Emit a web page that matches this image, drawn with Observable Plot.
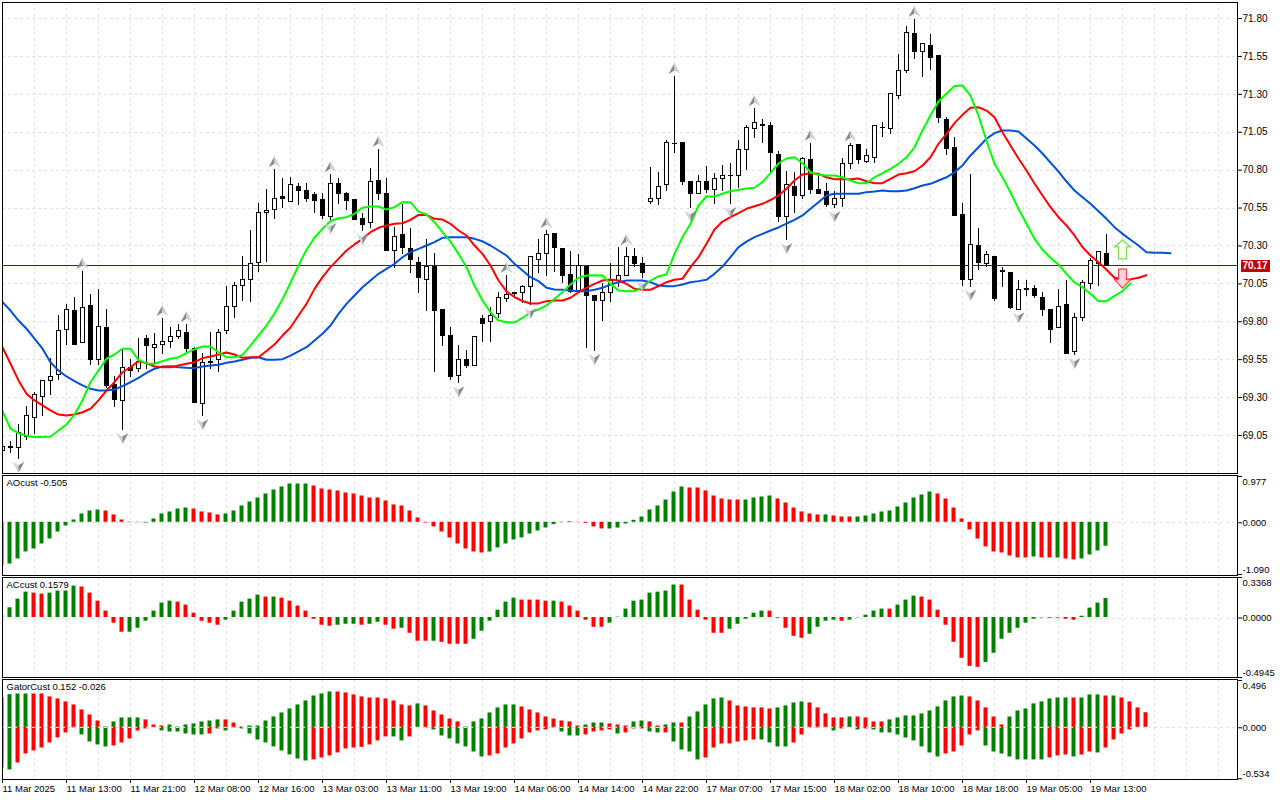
<!DOCTYPE html>
<html><head><meta charset="utf-8">
<script src="https://cdn.jsdelivr.net/npm/d3@7"></script>
<script src="https://cdn.jsdelivr.net/npm/@observablehq/plot@0.6"></script>
<style>html,body{margin:0;padding:0;background:#fff}#chart{position:relative;width:1280px;height:800px;overflow:hidden}</style>
</head><body><div id="chart"></div>
<script>
const opens=[68.946,68.972,68.969,69.039,69.166,69.302,69.408,69.450,69.747,69.874,69.659,69.901,69.546,69.762,69.380,69.276,69.492,69.490,69.683,69.628,69.645,69.668,69.698,69.727,69.622,69.256,69.532,69.549,69.740,69.899,70.036,70.077,70.189,70.519,70.538,70.624,70.593,70.692,70.664,70.633,70.600,70.490,70.710,70.646,70.600,70.481,70.453,70.730,70.646,70.268,70.374,70.281,70.189,70.077,70.164,69.879,69.707,69.439,69.549,69.507,69.819,69.797,69.850,69.949,69.990,69.988,70.031,70.209,70.248,70.376,70.281,70.110,70.006,70.164,69.971,69.936,69.991,70.072,70.100,70.228,70.184,70.591,70.611,70.703,70.975,70.980,70.723,70.644,70.723,70.670,70.743,70.764,70.763,70.934,71.073,71.095,71.093,70.903,70.490,70.692,70.628,70.864,70.666,70.653,70.569,70.608,70.839,70.963,70.857,70.879,71.078,71.073,71.290,71.453,71.695,71.578,71.622,71.556,71.134,70.943,70.501,70.077,70.301,70.182,70.228,70.132,70.123,69.879,70.017,70.017,69.958,69.879,69.760,69.912,69.599,69.823,70.050,70.180,70.248];
const highs=[68.977,69.010,69.122,69.241,69.335,69.413,69.556,69.841,69.914,69.958,70.131,69.978,70.011,69.879,69.439,69.610,69.549,69.688,69.709,69.721,69.821,69.760,69.780,69.780,69.632,69.589,69.727,69.747,70.033,70.057,70.230,70.402,70.578,70.670,70.802,70.743,70.752,70.710,70.710,70.651,70.646,70.769,70.743,70.651,70.604,70.512,70.809,70.936,70.743,70.420,70.573,70.413,70.222,70.341,70.248,69.879,69.764,69.643,69.610,69.705,69.841,69.896,69.991,70.105,69.995,70.039,70.230,70.343,70.402,70.384,70.285,70.261,70.242,70.171,69.971,70.050,70.184,70.288,70.288,70.281,70.222,70.819,70.783,70.996,71.418,70.980,70.723,70.765,70.822,70.776,70.831,70.842,70.996,71.094,71.205,71.134,71.116,70.925,70.791,70.784,70.885,70.978,70.765,70.710,70.661,70.875,70.974,70.963,70.936,71.093,71.116,71.304,71.561,71.748,71.794,71.637,71.695,71.556,71.149,71.017,70.580,70.771,70.413,70.263,70.230,70.156,70.123,70.072,70.072,70.039,69.991,69.879,70.011,70.072,69.852,70.072,70.217,70.259,70.376];
const lows=[68.938,68.933,68.893,69.017,69.056,69.175,69.314,69.413,69.643,69.645,69.657,69.511,69.511,69.358,69.236,69.083,69.430,69.465,69.483,69.518,69.584,69.624,69.685,69.593,69.263,69.175,69.485,69.465,69.716,69.821,69.934,69.929,70.127,70.189,70.476,70.549,70.587,70.567,70.589,70.516,70.472,70.468,70.573,70.534,70.468,70.397,70.417,70.600,70.268,70.149,70.244,70.120,69.988,69.868,69.467,69.637,69.413,69.391,69.490,69.507,69.663,69.665,69.819,69.929,69.955,69.920,69.907,70.118,70.099,70.127,70.054,69.984,69.995,69.626,69.604,69.804,69.929,70.028,70.100,70.160,70.083,70.571,70.569,70.661,70.912,70.699,70.549,70.644,70.644,70.573,70.659,70.573,70.677,70.798,71.011,70.978,70.778,70.457,70.336,70.512,70.606,70.639,70.639,70.556,70.545,70.556,70.804,70.837,70.842,70.846,71.017,71.035,71.264,71.439,71.530,71.413,71.457,71.110,70.897,70.496,70.033,70.028,70.138,70.160,69.936,70.028,69.879,69.879,69.969,69.951,69.837,69.659,69.760,69.586,69.577,69.804,70.013,70.035,70.166];
const closes=[68.973,68.970,69.065,69.180,69.318,69.411,69.437,69.740,69.879,69.645,69.892,69.546,69.767,69.375,69.283,69.496,69.474,69.533,69.637,69.648,69.668,69.701,69.740,69.619,69.263,69.529,69.530,69.727,69.899,70.037,70.077,70.182,70.519,70.532,70.611,70.608,70.703,70.661,70.608,70.595,70.496,70.710,70.641,70.595,70.470,70.437,70.723,70.641,70.268,70.360,70.285,70.209,70.087,70.164,69.870,69.705,69.434,69.549,69.505,69.701,69.784,69.839,69.958,69.978,69.986,70.031,70.224,70.248,70.374,70.288,70.100,69.998,70.169,69.969,69.936,69.991,70.072,70.100,70.228,70.178,70.120,70.611,70.690,70.980,70.973,70.721,70.641,70.723,70.668,70.743,70.760,70.762,70.934,71.079,71.112,71.093,70.912,70.490,70.703,70.628,70.875,70.666,70.644,70.569,70.611,70.842,70.961,70.870,70.895,71.093,71.076,71.304,71.455,71.706,71.578,71.633,71.538,71.143,70.938,70.496,70.075,70.308,70.186,70.242,69.949,70.130,69.889,70.011,70.011,69.969,69.879,69.747,69.899,69.586,69.826,70.057,70.202,70.259,70.170];
const lips=[69.210,69.094,69.065,69.048,69.039,69.039,69.043,69.083,69.122,69.188,69.281,69.401,69.478,69.556,69.584,69.622,69.622,69.549,69.525,69.523,69.540,69.556,69.566,69.593,69.619,69.637,69.637,69.599,69.566,69.566,69.581,69.643,69.709,69.775,69.854,69.949,70.056,70.171,70.275,70.354,70.413,70.463,70.483,70.490,70.512,70.552,70.560,70.560,70.540,70.556,70.589,70.589,70.527,70.507,70.457,70.391,70.329,70.248,70.160,70.039,69.940,69.863,69.808,69.797,69.795,69.825,69.863,69.881,69.907,69.951,69.995,70.046,70.090,70.105,70.107,70.105,70.050,70.006,70.002,70.002,70.028,70.072,70.100,70.112,70.248,70.358,70.446,70.567,70.626,70.626,70.644,70.661,70.670,70.679,70.684,70.721,70.781,70.844,70.877,70.885,70.846,70.786,70.769,70.765,70.765,70.753,70.732,70.714,70.714,70.753,70.780,70.809,70.842,70.885,70.951,71.062,71.160,71.253,71.304,71.356,71.358,71.292,71.160,70.996,70.842,70.753,70.653,70.545,70.446,70.347,70.275,70.222,70.178,70.116,70.059,70.028,69.984,69.936,69.936,69.971,70.002,70.054];
const teeth=[69.632,69.523,69.413,69.325,69.281,69.248,69.215,69.188,69.182,69.188,69.203,69.226,69.281,69.347,69.401,69.467,69.500,69.540,69.527,69.505,69.500,69.500,69.511,69.523,69.533,69.560,69.571,69.584,69.597,69.584,69.562,69.566,69.566,69.607,69.650,69.709,69.762,69.841,69.918,70.017,70.094,70.160,70.215,70.270,70.310,70.347,70.391,70.420,70.435,70.446,70.450,70.472,70.505,70.505,70.479,70.474,70.446,70.402,70.369,70.303,70.248,70.171,70.072,70.000,69.963,69.937,69.920,69.921,69.936,69.940,69.940,69.958,69.995,70.024,70.050,70.072,70.079,70.072,70.050,70.017,70.011,70.011,70.035,70.061,70.077,70.083,70.160,70.226,70.314,70.409,70.461,70.490,70.516,70.545,70.562,70.578,70.603,70.633,70.677,70.732,70.771,70.780,70.776,70.753,70.740,70.740,70.740,70.745,70.727,70.714,70.714,70.743,70.771,70.780,70.793,70.831,70.885,70.974,71.040,71.110,71.165,71.211,71.215,71.193,71.149,71.050,70.963,70.877,70.798,70.712,70.633,70.556,70.490,70.435,70.369,70.292,70.237,70.193,70.143,70.090,70.077,70.081,70.090,70.107];
const jaw=[69.929,69.874,69.808,69.754,69.688,69.622,69.533,69.478,69.439,69.408,69.380,69.358,69.347,69.347,69.353,69.375,69.401,69.430,69.463,69.490,69.505,69.507,69.500,69.496,69.494,69.505,69.511,69.516,69.529,69.538,69.549,69.562,69.566,69.549,69.549,69.553,69.577,69.604,69.632,69.676,69.721,69.775,69.852,69.918,69.973,70.028,70.072,70.116,70.149,70.182,70.226,70.259,70.281,70.303,70.325,70.354,70.358,70.358,70.358,70.347,70.331,70.303,70.270,70.237,70.182,70.138,70.094,70.068,70.024,70.013,70.011,70.006,70.002,70.002,70.011,70.024,70.046,70.061,70.072,70.072,70.072,70.061,70.039,70.035,70.035,70.046,70.061,70.068,70.077,70.116,70.164,70.226,70.292,70.329,70.358,70.380,70.402,70.422,70.448,70.472,70.501,70.545,70.589,70.633,70.644,70.644,70.644,70.644,70.655,70.659,70.666,70.661,70.661,70.666,70.681,70.699,70.710,70.732,70.753,70.786,70.831,70.897,70.951,71.007,71.044,71.062,71.062,71.055,71.009,70.963,70.910,70.850,70.791,70.725,70.666,70.622,70.578,70.529,70.479,70.424,70.380,70.341,70.303,70.259,70.255,70.255,70.252];
const fractalUp=[10,20,23,34,41,47,63,68,78,84,94,101,106,114];
const fractalDown=[2,15,25,41,45,57,66,74,80,86,91,98,104,121,127,134];
const aoValues=[-0.914,-0.879,-0.773,-0.626,-0.562,-0.457,-0.352,-0.204,-0.077,0.049,0.176,0.239,0.260,0.239,0.155,0.049,0.007,-0.007,-0.014,0.070,0.176,0.218,0.281,0.302,0.281,0.218,0.197,0.155,0.176,0.239,0.344,0.429,0.513,0.598,0.682,0.745,0.808,0.808,0.808,0.766,0.703,0.682,0.661,0.619,0.598,0.555,0.513,0.513,0.450,0.366,0.344,0.239,0.091,-0.014,-0.098,-0.204,-0.330,-0.457,-0.562,-0.626,-0.647,-0.626,-0.541,-0.457,-0.373,-0.330,-0.246,-0.183,-0.120,-0.049,-0.007,0.014,-0.007,-0.021,-0.098,-0.141,-0.141,-0.120,-0.035,0.042,0.112,0.260,0.344,0.471,0.640,0.745,0.724,0.724,0.661,0.555,0.492,0.471,0.471,0.471,0.513,0.534,0.555,0.492,0.408,0.302,0.218,0.176,0.155,0.155,0.134,0.112,0.112,0.112,0.134,0.176,0.218,0.239,0.323,0.408,0.513,0.576,0.640,0.598,0.492,0.302,0.070,-0.162,-0.352,-0.520,-0.626,-0.647,-0.710,-0.752,-0.752,-0.731,-0.752,-0.752,-0.752,-0.773,-0.794,-0.773,-0.689,-0.605,-0.505];
const aoRuns=[[13,"G"],[5,"R"],[6,"G"],[4,"R"],[11,"G"],[22,"R"],[11,"G"],[4,"R"],[10,"G"],[7,"R"],[4,"G"],[6,"R"],[1,"G"],[3,"R"],[10,"G"],[12,"R"],[1,"G"],[2,"R"],[1,"G"],[2,"R"],[4,"G"]];
const acValues=[0.014,0.081,0.153,0.211,0.203,0.195,0.203,0.220,0.220,0.261,0.253,0.203,0.136,0.053,-0.047,-0.122,-0.122,-0.089,-0.031,0.053,0.120,0.136,0.128,0.103,0.036,-0.031,-0.047,-0.064,-0.022,0.053,0.128,0.153,0.186,0.170,0.170,0.161,0.136,0.095,0.053,-0.014,-0.064,-0.072,-0.064,-0.056,-0.056,-0.064,-0.056,-0.039,-0.064,-0.097,-0.089,-0.131,-0.197,-0.197,-0.197,-0.206,-0.222,-0.222,-0.222,-0.181,-0.114,-0.031,0.061,0.128,0.161,0.145,0.145,0.145,0.136,0.136,0.128,0.095,0.053,-0.022,-0.081,-0.081,-0.047,0.003,0.070,0.136,0.145,0.203,0.211,0.220,0.270,0.270,0.145,0.061,-0.022,-0.131,-0.131,-0.097,-0.056,-0.014,0.036,0.053,0.053,-0.006,-0.089,-0.156,-0.172,-0.139,-0.081,-0.031,-0.022,-0.031,-0.022,-0.003,0.019,0.053,0.070,0.070,0.103,0.145,0.178,0.170,0.145,0.061,-0.064,-0.206,-0.339,-0.406,-0.414,-0.373,-0.297,-0.181,-0.131,-0.089,-0.047,-0.014,-0.003,-0.006,-0.006,-0.014,-0.022,0.011,0.078,0.120,0.1579];
const acRuns=[[4,"G"],[2,"R"],[4,"G"],[6,"R"],[6,"G"],[6,"R"],[5,"G"],[1,"R"],[1,"G"],[7,"R"],[3,"G"],[1,"R"],[2,"G"],[2,"R"],[1,"G"],[3,"R"],[1,"G"],[4,"R"],[6,"G"],[4,"R"],[1,"G"],[6,"R"],[9,"G"],[6,"R"],[5,"G"],[5,"R"],[4,"G"],[1,"R"],[5,"G"],[1,"R"],[3,"G"],[8,"R"],[8,"G"],[1,"R"],[1,"G"],[2,"R"],[4,"G"]];
const gatorUpper=[0.307,0.342,0.349,0.349,0.349,0.349,0.318,0.297,0.266,0.234,0.182,0.129,0.066,0.003,0.056,0.098,0.098,0.098,0.077,0.024,0.014,0.024,0.003,0.024,0.035,0.056,0.066,0.077,0.077,0.045,0.003,0.014,0.014,0.066,0.108,0.150,0.192,0.234,0.276,0.328,0.349,0.370,0.370,0.360,0.339,0.318,0.307,0.307,0.297,0.276,0.234,0.224,0.245,0.224,0.171,0.129,0.087,0.056,0.003,0.056,0.087,0.150,0.203,0.234,0.234,0.213,0.182,0.150,0.108,0.087,0.066,0.056,0.014,0.024,0.045,0.045,0.035,0.024,0.014,0.056,0.066,0.056,0.014,0.024,0.045,0.045,0.108,0.161,0.234,0.297,0.307,0.276,0.224,0.213,0.203,0.203,0.192,0.203,0.224,0.255,0.266,0.255,0.203,0.140,0.098,0.098,0.108,0.108,0.098,0.056,0.056,0.077,0.098,0.119,0.119,0.140,0.171,0.213,0.276,0.318,0.328,0.318,0.276,0.203,0.108,0.024,0.108,0.171,0.192,0.245,0.266,0.297,0.307,0.307,0.307,0.307,0.339,0.339,0.328,0.328,0.307,0.266,0.203,0.152];
const gatorUpperRuns=[[4,"G"],[10,"R"],[4,"G"],[3,"R"],[1,"G"],[1,"R"],[5,"G"],[3,"R"],[11,"G"],[10,"R"],[1,"G"],[6,"R"],[6,"G"],[8,"R"],[3,"G"],[3,"R"],[2,"G"],[2,"R"],[2,"G"],[1,"R"],[5,"G"],[6,"R"],[4,"G"],[5,"R"],[1,"G"],[4,"R"],[10,"G"],[5,"R"],[8,"G"],[1,"R"],[3,"G"],[1,"R"],[1,"G"],[4,"R"]];
const gatorLower=[-0.426,-0.447,-0.374,-0.280,-0.248,-0.217,-0.164,-0.112,-0.059,-0.007,-0.080,-0.154,-0.185,-0.206,-0.196,-0.164,-0.122,-0.038,-0.017,-0.007,-0.038,-0.049,-0.049,-0.070,-0.080,-0.080,-0.070,-0.017,-0.038,-0.007,-0.017,-0.070,-0.133,-0.164,-0.206,-0.248,-0.290,-0.332,-0.353,-0.342,-0.321,-0.300,-0.269,-0.227,-0.217,-0.210,-0.185,-0.143,-0.101,-0.101,-0.143,-0.101,0,-0.007,-0.028,-0.091,-0.122,-0.175,-0.206,-0.259,-0.311,-0.300,-0.280,-0.217,-0.175,-0.122,-0.059,-0.038,-0.028,-0.007,-0.049,-0.091,-0.091,-0.080,-0.049,-0.038,-0.028,-0.070,-0.059,-0.017,-0.017,-0.049,-0.059,-0.059,-0.154,-0.238,-0.259,-0.342,-0.321,-0.217,-0.175,-0.175,-0.154,-0.143,-0.133,-0.133,-0.164,-0.206,-0.206,-0.164,-0.080,-0.007,-0.007,-0.007,-0.038,-0.017,-0.007,-0.028,-0.017,-0.028,-0.059,-0.059,-0.080,-0.112,-0.143,-0.206,-0.269,-0.311,-0.280,-0.259,-0.196,-0.080,-0.038,-0.196,-0.259,-0.280,-0.311,-0.342,-0.342,-0.342,-0.342,-0.321,-0.300,-0.290,-0.311,-0.290,-0.259,-0.269,-0.217,-0.133,-0.070,-0.028,0,0];
const gatorLowerRuns=[[2,"G"],[8,"R"],[4,"G"],[6,"R"],[6,"G"],[2,"R"],[1,"G"],[1,"R"],[9,"G"],[10,"R"],[2,"G"],[3,"R"],[7,"G"],[9,"R"],[3,"G"],[4,"R"],[1,"G"],[3,"R"],[2,"G"],[1,"R"],[4,"G"],[7,"R"],[4,"G"],[5,"R"],[1,"G"],[2,"R"],[1,"G"],[1,"R"],[9,"G"],[5,"R"],[8,"G"],[3,"R"],[1,"G"],[2,"R"],[1,"G"],[6,"R"]];
const priceTicks=[71.80,71.55,71.30,71.05,70.80,70.55,70.30,70.05,69.80,69.55,69.30,69.05];
const timeLabels=["11 Mar 2025","11 Mar 13:00","11 Mar 21:00","12 Mar 08:00","12 Mar 16:00","13 Mar 03:00","13 Mar 11:00","13 Mar 19:00","14 Mar 06:00","14 Mar 14:00","14 Mar 22:00","17 Mar 07:00","17 Mar 15:00","18 Mar 02:00","18 Mar 10:00","18 Mar 18:00","19 Mar 05:00","19 Mar 13:00"];
const lastPrice=70.17;
const signalIndex=140, signalUp=70.277, signalDown=70.085;

const FONT='"Liberation Sans",Arial,sans-serif';
const FS=9.5;
const xDomain=[0,154.375];
const GRID="#e2e2e2", GREEN="#008000", RED="#ff0000";
const gridX=d3.range(4,154,4);
const shared={width:1280,marginLeft:2,marginRight:43,style:{position:"absolute",left:"0",background:"transparent",fontFamily:FONT,fontSize:FS+"px",color:"#000",overflow:"visible"}};
const expand=runs=>runs.flatMap(([n,c])=>Array(n).fill(c));
const crisp={shapeRendering:"crispEdges"};
const grid=()=>Plot.ruleX(gridX,{x:d=>d,stroke:GRID,strokeDasharray:"3,3",...crisp});
const halfUpL={draw(c){c.moveTo(0,-5.5);c.lineTo(-6,5.5);c.lineTo(0,2);c.closePath();}};
const halfUpR={draw(c){c.moveTo(0,-5.5);c.lineTo(6,5.5);c.lineTo(0,2);c.closePath();}};
const halfDnL={draw(c){c.moveTo(0,5.5);c.lineTo(-6,-5.5);c.lineTo(0,-2);c.closePath();}};
const halfDnR={draw(c){c.moveTo(0,5.5);c.lineTo(6,-5.5);c.lineTo(0,-2);c.closePath();}};
const bigUp={draw(c){c.moveTo(0,-9.5);c.lineTo(8,-2.5);c.lineTo(4,-2.5);c.lineTo(4,9.5);c.lineTo(-4,9.5);c.lineTo(-4,-2.5);c.lineTo(-8,-2.5);c.closePath();}};
const bigDn={draw(c){c.moveTo(0,9.5);c.lineTo(8,1);c.lineTo(4,1);c.lineTo(4,-9.5);c.lineTo(-4,-9.5);c.lineTo(-4,1);c.lineTo(-8,1);c.closePath();}};
const tag={draw(c){c.rect(3,-6,29,12);}};

function bars(values,dirs,color,dir){
  const idx=values.map((v,i)=>i).filter(i=>dirs[i]===dir&&values[i]!==0);
  return Plot.rect(idx,{x1:i=>i-0.25,x2:i=>i+0.25,y1:()=>0,y2:i=>values[i],fill:color,dx:-0.5,dy:-0.5,clip:true});
}
function rightLabel(v,text,dy){
  return Plot.text([v],{x:()=>xDomain[1],y:d=>d,text:()=>text,textAnchor:"start",dx:5,dy,fontSize:FS,fill:"#000"});
}
function title(t){
  return Plot.text([t],{frameAnchor:"top-left",text:d=>d,dx:4,dy:3.5,fontSize:FS,fill:"#000"});
}
const chart=document.getElementById("chart");
const add=(top,opts)=>{const s=Plot.plot({...shared,...opts,style:{...shared.style,top:top+"px"}});chart.appendChild(s);};

/* price panel */
const idx=d3.range(opens.length);
const up=idx.filter(i=>closes[i]>=opens[i]), down=idx.filter(i=>closes[i]<opens[i]);
const body=(set,fill)=>Plot.rect(set,{x1:i=>i-0.25,x2:i=>i+0.25,y1:i=>opens[i],y2:i=>closes[i],fill,stroke:"#000",strokeWidth:1,clip:true,...crisp});
const series=(vals,stroke)=>Plot.line(vals.map((v,i)=>[i,v]),{x:"0",y:"1",stroke,strokeWidth:2,curve:"linear",clip:true});
const fractal=(set,sym,val,dy,fill)=>Plot.dot(set,{x:i=>i,y:i=>val[i],symbol:sym,r:5,fill,stroke:"none",dy,clip:true});
add(0,{height:475,marginTop:2,marginBottom:2,x:{domain:xDomain,axis:null},y:{domain:[68.799,71.906],axis:null},marks:[
  grid(),
  Plot.ruleY(priceTicks,{y:d=>d,stroke:GRID,strokeDasharray:"3,3",...crisp}),
  Plot.ruleY([lastPrice],{y:d=>d,stroke:"#900000",strokeWidth:1,...crisp}),
  Plot.ruleX(idx,{x:i=>i,y1:i=>lows[i],y2:i=>highs[i],stroke:"#000",strokeWidth:1,clip:true,...crisp}),
  body(up,"#fff"),body(down,"#000"),
  series(jaw,"#0050d8"),series(teeth,"#ff0000"),series(lips,"#00ff00"),
  fractal(fractalUp,halfUpL,highs,-8,"#8a8a8a"),fractal(fractalUp,halfUpR,highs,-8,"#ccd3dc"),
  fractal(fractalDown,halfDnL,lows,8,"#ccd3dc"),fractal(fractalDown,halfDnR,lows,8,"#8a8a8a"),
  Plot.dot([signalUp],{x:()=>signalIndex,y:d=>d,symbol:bigUp,r:5,fill:"#f4fff0",stroke:"#7fdc5a",strokeWidth:1.2}),
  Plot.dot([signalDown],{x:()=>signalIndex,y:d=>d,symbol:bigDn,r:5,fill:"#ffd4dc",stroke:"#ff4050",strokeWidth:1.2}),
  Plot.axisY(priceTicks,{anchor:"right",tickSize:4,tickPadding:1,tickFormat:d=>d.toFixed(2),fontSize:10,label:null,stroke:"#000"}),
  Plot.dot([lastPrice],{x:()=>xDomain[1],y:d=>d,symbol:tag,r:5,fill:"#c00000",stroke:"none",...crisp}),
  Plot.text([lastPrice],{x:()=>xDomain[1],y:d=>d,text:d=>d.toFixed(2),textAnchor:"start",dx:5,fontSize:10,fontWeight:"bold",fill:"#fff"}),
  Plot.frame({stroke:"#000",...crisp})
]});

/* oscillator panels */
const aoDirs=expand(aoRuns), acDirs=expand(acRuns), guDirs=expand(gatorUpperRuns), glDirs=expand(gatorLowerRuns);
const zeroGrid=()=>Plot.ruleY([0],{y:d=>d,stroke:GRID,strokeDasharray:"3,3",...crisp});
add(474,{height:102,marginTop:1,marginBottom:1,x:{domain:xDomain,axis:null},y:{domain:[-1.112,0.998],axis:null},marks:[
  grid(),zeroGrid(),
  bars(aoValues,aoDirs,GREEN,"G"),bars(aoValues,aoDirs,RED,"R"),
  title("AOcust -0.505"),
  Plot.axisY([0.977,0,-1.09],{anchor:"right",tickSize:4,fill:"none",label:null,stroke:"#000"}),
  rightLabel(0.977,"0.977",5),rightLabel(0,"0.000",0),rightLabel(-1.09,"-1.090",-5),
  Plot.frame({stroke:"#000",...crisp})
]});
add(576,{height:102,marginTop:1,marginBottom:1,x:{domain:xDomain,axis:null},y:{domain:[-0.4945,0.3368],axis:null},marks:[
  grid(),zeroGrid(),
  bars(acValues,acDirs,GREEN,"G"),bars(acValues,acDirs,RED,"R"),
  title("ACcust 0.1579"),
  Plot.axisY([0.3368,0,-0.4945],{anchor:"right",tickSize:4,fill:"none",label:null,stroke:"#000"}),
  rightLabel(0.3368,"0.3368",5),rightLabel(0,"0.0000",0),rightLabel(-0.4945,"-0.4945",-5),
  Plot.frame({stroke:"#000",...crisp})
]});
add(678,{height:122,marginTop:1,marginBottom:21,x:{domain:xDomain,axis:null},y:{domain:[-0.542,0.506],axis:null},marks:[
  grid(),
  bars(gatorUpper,guDirs,GREEN,"G"),bars(gatorUpper,guDirs,RED,"R"),
  bars(gatorLower,glDirs,GREEN,"G"),bars(gatorLower,glDirs,RED,"R"),
  zeroGrid(),
  title("GatorCust 0.152 -0.026"),
  Plot.axisY([0.496,0,-0.534],{anchor:"right",tickSize:4,fill:"none",label:null,stroke:"#000"}),
  rightLabel(0.496,"0.496",5),rightLabel(0,"0.000",0),rightLabel(-0.534,"-0.534",-5),
  Plot.axisX(timeLabels.map((d,i)=>i*8),{anchor:"bottom",tickSize:4,tickPadding:2,textAnchor:"start",tickFormat:d=>timeLabels[d/8],fontSize:FS,label:null,stroke:"#000"}),
  Plot.frame({stroke:"#000",...crisp})
]});
</script></body></html>
